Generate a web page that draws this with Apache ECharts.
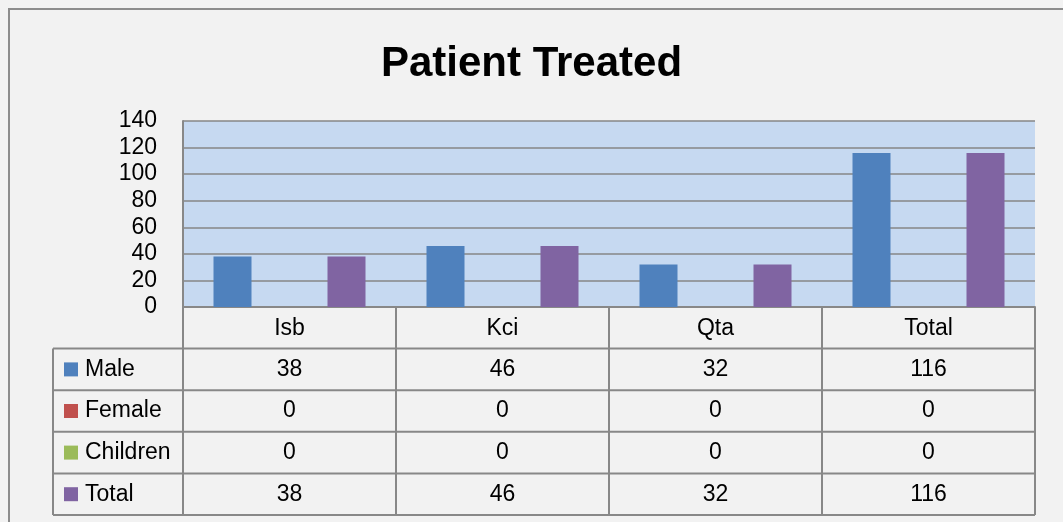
<!DOCTYPE html>
<html>
<head>
<meta charset="utf-8">
<script src="https://cdn.jsdelivr.net/npm/echarts@6/dist/echarts.min.js"></script>
<style>
  html, body { margin: 0; padding: 0; background: #f2f2f2; }
  #chart { width: 1063px; height: 522px; }
</style>
</head>
<body>
<div id="chart"></div>
<script>
const categories = ['Isb', 'Kci', 'Qta', 'Total'];
const seriesNames = ['Male', 'Female', 'Children', 'Total'];
const male = [38, 46, 32, 116];
const female = [0, 0, 0, 0];
const children = [0, 0, 0, 0];
const total = [38, 46, 32, 116];
const colors = ['#4f81bd', '#c0504d', '#9bbb59', '#8064a2'];

const values = [male, female, children, total];
const font = "'Liberation Sans', Arial, sans-serif";
const grid = { left: 183, top: 121, width: 852, height: 186 };
const tableLeft = 53;
const rowH = 41.6;
const lineColor = '#888888';

// data table under the plot (Excel style)
const right = grid.left + grid.width;
const y0 = grid.top + grid.height;
const colW = grid.width / categories.length;
const graphic = [];

// outer chart border (only left/top visible in the crop)
graphic.push({
  type: 'rect', shape: { x: 9, y: 9, width: 1200, height: 700 },
  style: { fill: 'none', stroke: '#8c8c8c', lineWidth: 2 }, z: 10
});

for (let r = 1; r <= seriesNames.length + 1; r++) {
  const y = y0 + r * rowH;
  graphic.push({
    type: 'line', shape: { x1: tableLeft, y1: y, x2: right, y2: y },
    style: { stroke: lineColor, lineWidth: 2 }, z: 10
  });
}
graphic.push({
  type: 'line', shape: { x1: tableLeft, y1: y0 + rowH, x2: tableLeft, y2: y0 + rowH * 5 },
  style: { stroke: lineColor, lineWidth: 2 }, z: 10
});
for (let c = 0; c <= categories.length; c++) {
  const x = grid.left + c * colW;
  graphic.push({
    type: 'line', shape: { x1: x, y1: y0, x2: x, y2: y0 + rowH * 5 },
    style: { stroke: lineColor, lineWidth: 2 }, z: 10
  });
}
seriesNames.forEach((name, i) => {
  const cy = y0 + rowH * (i + 1.5);
  graphic.push({
    type: 'rect', shape: { x: 64, y: cy - 7, width: 14, height: 14 },
    style: { fill: colors[i] }, z: 10
  });
  graphic.push({
    type: 'text', x: 85, y: cy,
    style: { text: name, font: '23px ' + font, fill: '#000', verticalAlign: 'middle', align: 'left' }, z: 10
  });
  values[i].forEach((v, c) => {
    graphic.push({
      type: 'text', x: grid.left + (c + 0.5) * colW, y: cy,
      style: { text: String(v), font: '23px ' + font, fill: '#000', verticalAlign: 'middle', align: 'center' }, z: 10
    });
  });
});

const chart = echarts.init(document.getElementById('chart'));
chart.setOption({
  backgroundColor: '#f2f2f2',
  animation: false,
  title: {
    text: 'Patient Treated',
    left: 'center',
    top: 38,
    textStyle: { fontFamily: font, fontSize: 42, fontWeight: 'bold', color: '#000' }
  },
  grid: Object.assign({ backgroundColor: '#c6d9f1', show: true, borderWidth: 0 }, grid),
  xAxis: {
    type: 'category',
    data: categories,
    axisLine: { lineStyle: { color: lineColor, width: 2 } },
    axisTick: { show: false },
    axisLabel: { margin: 10, fontFamily: font, fontSize: 23, color: '#000' }
  },
  yAxis: {
    type: 'value',
    min: 0,
    max: 140,
    interval: 20,
    axisLine: { show: true, lineStyle: { color: lineColor, width: 2 } },
    axisTick: { show: false },
    splitLine: { lineStyle: { color: '#868686', width: 1.5 } },
    axisLabel: {
      margin: 26,
      fontFamily: font,
      fontSize: 23,
      lineHeight: 23,
      color: '#000',
      showMinLabel: true,
      showMaxLabel: true,
      hideOverlap: false
    }
  },
  series: seriesNames.map((name, i) => ({
    name: name,
    type: 'bar',
    data: values[i],
    barWidth: 38,
    barGap: '0%',
    itemStyle: { color: colors[i] }
  })),
  graphic: graphic
});
</script>
</body>
</html>
